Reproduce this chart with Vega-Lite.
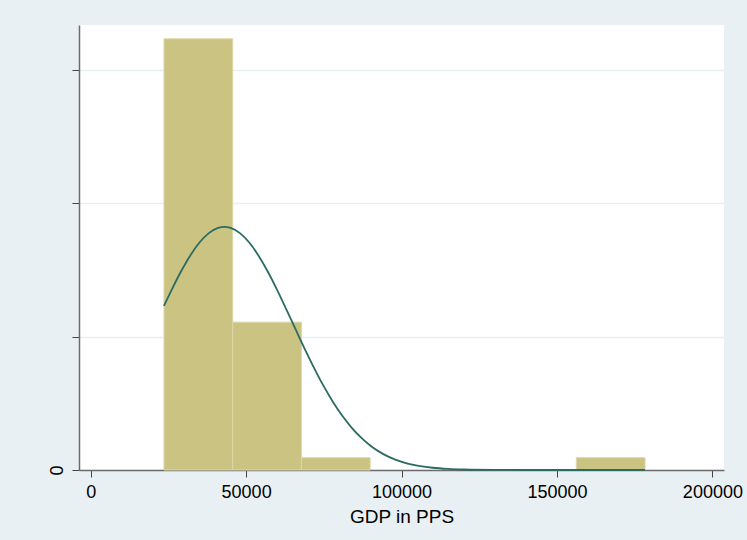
{
  "$schema": "https://vega.github.io/schema/vega-lite/v6.json",
  "width": 645,
  "height": 445,
  "autosize": {"type": "none"},
  "padding": {"left": 79, "top": 25, "right": 23, "bottom": 70},
  "background": "#e9f0f3",
  "config": {
    "view": {"fill": "#ffffff", "stroke": null},
    "font": "Liberation Sans"
  },
  "datasets": {
    "bins": [
      {"bin_start": 23570, "bin_end": 45679, "density": 3.2307e-5},
      {"bin_start": 45679, "bin_end": 67788, "density": 1.1077e-5},
      {"bin_start": 67788, "bin_end": 89897, "density": 9.231e-7},
      {"bin_start": 156224, "bin_end": 178333, "density": 9.231e-7}
    ],
    "normal": [
      {"gdp": 23570, "density": 1.2289e-5},
      {"gdp": 26000, "density": 1.3478e-5},
      {"gdp": 29000, "density": 1.4850e-5},
      {"gdp": 32000, "density": 1.6058e-5},
      {"gdp": 35000, "density": 1.7041e-5},
      {"gdp": 38000, "density": 1.7748e-5},
      {"gdp": 41000, "density": 1.8140e-5},
      {"gdp": 43000, "density": 1.8216e-5},
      {"gdp": 45000, "density": 1.8140e-5},
      {"gdp": 48000, "density": 1.7748e-5},
      {"gdp": 51000, "density": 1.7041e-5},
      {"gdp": 54000, "density": 1.6058e-5},
      {"gdp": 57000, "density": 1.4850e-5},
      {"gdp": 60000, "density": 1.3478e-5},
      {"gdp": 63000, "density": 1.2004e-5},
      {"gdp": 66000, "density": 1.0494e-5},
      {"gdp": 69000, "density": 9.002e-6},
      {"gdp": 72000, "density": 7.582e-6},
      {"gdp": 75000, "density": 6.263e-6},
      {"gdp": 78000, "density": 5.079e-6},
      {"gdp": 81000, "density": 4.042e-6},
      {"gdp": 84000, "density": 3.158e-6},
      {"gdp": 87000, "density": 2.421e-6},
      {"gdp": 90000, "density": 1.822e-6},
      {"gdp": 94000, "density": 1.210e-6},
      {"gdp": 98000, "density": 7.78e-7},
      {"gdp": 102000, "density": 4.83e-7},
      {"gdp": 106000, "density": 2.91e-7},
      {"gdp": 110000, "density": 1.69e-7},
      {"gdp": 115000, "density": 8.2e-8},
      {"gdp": 120000, "density": 3.8e-8},
      {"gdp": 130000, "density": 6.8e-9},
      {"gdp": 140000, "density": 1.0e-9},
      {"gdp": 150000, "density": 0},
      {"gdp": 160000, "density": 0},
      {"gdp": 178333, "density": 0}
    ]
  },
  "layer": [
    {
      "data": {"name": "bins"},
      "mark": {"type": "rect", "color": "#cbc382", "stroke": "#dcd7a8", "strokeWidth": 1},
      "encoding": {
        "x": {
          "field": "bin_start",
          "type": "quantitative",
          "scale": {"domain": [-3762, 203730], "nice": false, "zero": false},
          "axis": {
            "values": [0, 50000, 100000, 150000, 200000],
            "format": "d",
            "title": "GDP in PPS",
            "titleFont": "Liberation Sans",
            "titleFontSize": 19,
            "titleFontWeight": "normal",
            "titleColor": "#000000",
            "titlePadding": 6,
            "labelFont": "Liberation Sans",
            "labelFontSize": 18,
            "labelColor": "#000000",
            "labelPadding": 6,
            "labelFlush": false,
            "labelOverlap": false,
            "grid": false,
            "domainColor": "#6b6b6b",
            "domainWidth": 1.5,
            "tickColor": "#444444",
            "tickSize": 7,
            "tickWidth": 1
          }
        },
        "x2": {"field": "bin_end"},
        "y": {
          "field": "density",
          "type": "quantitative",
          "scale": {"domain": [0, 3.334e-5], "nice": false},
          "axis": {
            "values": [0, 1e-5, 2e-5, 3e-5],
            "labelExpr": "datum.value == 0 ? '0' : ''",
            "title": null,
            "labelFont": "Liberation Sans",
            "labelFontSize": 18,
            "labelColor": "#000000",
            "labelAngle": 270,
            "labelPadding": 6,
            "grid": true,
            "gridColor": "#e8eff1",
            "gridWidth": 1.5,
            "domainColor": "#6b6b6b",
            "domainWidth": 1.5,
            "tickColor": "#444444",
            "tickSize": 7,
            "tickWidth": 1
          }
        },
        "y2": {"datum": 0}
      }
    },
    {
      "data": {"name": "normal"},
      "mark": {"type": "line", "color": "#2b6b62", "strokeWidth": 1.8, "interpolate": "monotone"},
      "encoding": {
        "x": {"field": "gdp", "type": "quantitative"},
        "y": {"field": "density", "type": "quantitative"}
      }
    }
  ]
}
